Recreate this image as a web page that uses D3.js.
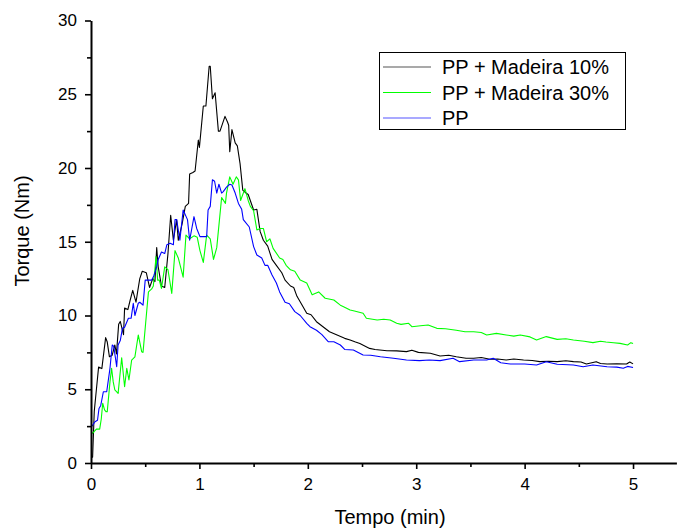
<!DOCTYPE html>
<html><head><meta charset="utf-8">
<script src="https://cdn.jsdelivr.net/npm/d3@7/dist/d3.min.js"></script>
<style>body{margin:0;background:#fff}svg{display:block}text{font-family:"Liberation Sans",Arial,sans-serif;fill:#000}</style>
</head><body><svg id="c" width="678" height="530"></svg>
<script>
const seriesNames = ["PP + Madeira 10%", "PP + Madeira 30%", "PP"];
const xTicks = [0,1,2,3,4,5];
const yTicks = [0,5,10,15,20,25,30];

const pp10 = [[0,0.4],[0.015,0.4],[0.03,3.5],[0.05,5.0],[0.07,6.5],[0.1,6.4],[0.12,7.6],[0.135,8.5],[0.15,8.2],[0.17,7.2],[0.195,7.3],[0.22,8.0],[0.235,7.4],[0.255,9.4],[0.27,9.6],[0.3,8.7],[0.31,10.5],[0.34,10.4],[0.36,11.0],[0.385,11.7],[0.415,10.9],[0.43,11.6],[0.45,12.5],[0.473,13.0],[0.51,12.9],[0.54,11.9],[0.57,12.5],[0.59,12.3],[0.606,14.6],[0.62,13.3],[0.65,12.0],[0.68,11.9],[0.71,14.2],[0.735,16.8],[0.76,15.1],[0.79,16.5],[0.805,15.1],[0.84,16.2],[0.87,17.4],[0.9,17.6],[0.91,19.6],[0.94,19.7],[0.96,19.8],[0.99,21.9],[1.0,21.4],[1.036,24.2],[1.06,24.2],[1.09,26.9],[1.1,26.9],[1.12,24.7],[1.145,25.1],[1.175,22.5],[1.19,22.5],[1.236,23.5],[1.26,23.1],[1.27,22.9],[1.28,21.1],[1.3,22.6],[1.33,21.7],[1.35,21.5],[1.375,20.3],[1.40,18.5],[1.43,18.3],[1.45,18.2],[1.50,17.15],[1.53,17.2],[1.56,15.7],[1.59,15.1],[1.63,14.7],[1.67,13.8],[1.71,13.4],[1.76,12.9],[1.79,12.4],[1.84,12.0],[1.87,11.9],[1.90,11.3],[1.94,10.8],[1.99,10.15],[2.03,10.05],[2.08,9.58],[2.14,9.24],[2.2,8.9],[2.27,8.68],[2.34,8.45],[2.39,8.34],[2.44,8.2],[2.48,8.1],[2.57,7.77],[2.62,7.7],[2.73,7.61],[2.82,7.6],[2.91,7.55],[2.96,7.65],[3.02,7.5],[3.13,7.44],[3.22,7.25],[3.3,7.3],[3.37,7.2],[3.46,7.1],[3.53,7.1],[3.6,7.15],[3.68,7.03],[3.75,7.05],[3.83,6.98],[3.9,7.05],[3.99,6.98],[4.07,6.95],[4.14,6.87],[4.22,6.9],[4.30,6.87],[4.38,6.93],[4.45,6.87],[4.52,6.85],[4.57,6.71],[4.62,6.8],[4.66,6.87],[4.7,6.75],[4.76,6.71],[4.85,6.72],[4.94,6.71],[4.97,6.85],[5.0,6.72]];

const pp30 = [[0.01,2.0],[0.028,2.12],[0.05,2.3],[0.08,2.3],[0.095,3.0],[0.108,4.05],[0.125,3.6],[0.138,3.48],[0.15,3.48],[0.175,5.5],[0.19,6.42],[0.205,5.5],[0.22,4.95],[0.25,4.72],[0.283,7.14],[0.31,5.17],[0.33,6.42],[0.35,5.63],[0.375,6.98],[0.405,7.2],[0.436,8.68],[0.468,7.54],[0.48,7.5],[0.504,9.47],[0.53,11.6],[0.56,11.8],[0.575,12.0],[0.6,14.0],[0.615,12.4],[0.63,12.4],[0.65,11.84],[0.68,13.3],[0.71,13.1],[0.745,11.5],[0.775,14.4],[0.805,13.9],[0.85,12.6],[0.876,15.45],[0.91,15.2],[0.95,15.4],[0.98,15.3],[1.005,14.4],[1.036,13.6],[1.067,15.45],[1.1,15.2],[1.13,13.8],[1.16,14.6],[1.205,18.0],[1.24,17.6],[1.25,18.3],[1.28,19.4],[1.31,18.9],[1.34,19.4],[1.36,19.2],[1.38,17.8],[1.42,18.6],[1.45,17.8],[1.47,17.4],[1.5,17.1],[1.53,15.8],[1.56,15.9],[1.59,15.9],[1.62,15.0],[1.65,15.2],[1.68,14.55],[1.74,13.9],[1.77,13.8],[1.80,13.4],[1.84,13.1],[1.88,13.0],[1.93,12.4],[1.99,12.2],[2.04,11.4],[2.10,11.6],[2.16,11.17],[2.24,11.05],[2.30,10.7],[2.33,10.6],[2.39,10.37],[2.43,10.3],[2.51,10.15],[2.54,9.81],[2.64,9.7],[2.7,9.75],[2.76,9.7],[2.82,9.47],[2.86,9.4],[2.93,9.47],[2.96,9.24],[3.04,9.3],[3.11,9.36],[3.19,9.13],[3.27,9.1],[3.37,9.0],[3.45,8.9],[3.53,8.9],[3.6,8.85],[3.65,8.68],[3.74,8.79],[3.83,8.68],[3.9,8.6],[3.96,8.68],[4.05,8.55],[4.11,8.34],[4.20,8.57],[4.30,8.38],[4.38,8.42],[4.45,8.34],[4.55,8.25],[4.63,8.16],[4.7,8.25],[4.75,8.2],[4.82,8.15],[4.88,8.11],[4.95,8.0],[4.98,8.16],[5.0,8.1]];

const pp = [[0.005,2.46],[0.037,2.8],[0.06,2.9],[0.074,3.7],[0.09,3.9],[0.114,4.83],[0.145,4.83],[0.175,6.42],[0.196,8.0],[0.21,7.9],[0.237,6.53],[0.25,8.0],[0.27,8.3],[0.29,9.13],[0.31,9.2],[0.345,9.81],[0.37,9.81],[0.39,10.83],[0.405,10.0],[0.436,10.83],[0.45,10.9],[0.48,10.7],[0.5,12.4],[0.53,12.4],[0.56,12.4],[0.58,12.7],[0.606,13.3],[0.62,13.8],[0.65,14.3],[0.68,14.2],[0.70,14.8],[0.73,14.9],[0.76,14.8],[0.775,16.5],[0.79,16.5],[0.82,15.1],[0.85,17.15],[0.89,16.5],[0.91,15.1],[0.95,16.7],[0.975,15.9],[1.005,15.35],[1.067,15.35],[1.08,17.15],[1.1,17.4],[1.12,19.2],[1.14,19.1],[1.16,18.3],[1.18,18.9],[1.205,18.3],[1.22,18.4],[1.25,18.7],[1.28,18.9],[1.30,18.85],[1.33,18.3],[1.36,17.6],[1.39,17.2],[1.405,16.5],[1.42,16.36],[1.46,16.0],[1.50,14.67],[1.53,14.1],[1.575,13.9],[1.605,13.4],[1.63,13.4],[1.67,12.75],[1.71,12.2],[1.74,11.6],[1.79,10.9],[1.83,10.8],[1.88,10.26],[1.93,10.0],[1.99,9.47],[2.02,9.24],[2.08,9.0],[2.13,8.7],[2.19,8.22],[2.24,8.22],[2.30,8.0],[2.34,7.7],[2.42,7.66],[2.51,7.32],[2.58,7.3],[2.67,7.2],[2.79,7.1],[2.91,6.98],[3.03,6.94],[3.12,6.98],[3.22,6.94],[3.34,7.1],[3.40,6.87],[3.53,6.98],[3.65,6.98],[3.71,7.1],[3.78,6.8],[3.87,6.71],[4.0,6.71],[4.11,6.64],[4.20,6.87],[4.3,6.7],[4.45,6.64],[4.54,6.53],[4.63,6.64],[4.76,6.53],[4.85,6.5],[4.91,6.42],[4.95,6.55],[5.0,6.48]];

const colors = ["#000000", "#00ff00", "#0000ff"];
const legendColors = ["#555555", "#00ff00", "#5555ff"];

const svg = d3.select("#c");
const x = d3.scaleLinear().domain([0, 5.4]).range([91, 676.4]);
const y = d3.scaleLinear().domain([0, 30]).range([463, 20.5]);

const line = d3.line().x(d => x(d[0])).y(d => y(d[1]));
[pp10, pp30, pp].forEach((s, i) => {
  svg.append("path").attr("d", line(s)).attr("fill", "none")
    .attr("stroke", colors[i]).attr("stroke-width", 1.1).attr("stroke-linejoin", "round");
});

// minor ticks
const xMinor = d3.range(0.5, 5.4, 1);
const yMinor = d3.range(2.5, 30, 5);
const gx = svg.append("g").attr("transform", "translate(0,463)");
gx.call(d3.axisBottom(x).tickValues(xMinor).tickSize(4).tickFormat(""));
gx.call(g => g.select(".domain").remove());
const gx2 = svg.append("g").attr("transform", "translate(0,463)");
gx2.call(d3.axisBottom(x).tickValues(xTicks).tickSize(6).tickSizeOuter(0).tickPadding(9).tickFormat(d3.format("d")));
const gy = svg.append("g").attr("transform", "translate(91,0)");
gy.call(d3.axisLeft(y).tickValues(yMinor).tickSize(4).tickFormat(""));
gy.call(g => g.select(".domain").remove());
const gy2 = svg.append("g").attr("transform", "translate(91,0)");
gy2.call(d3.axisLeft(y).tickValues(yTicks).tickSize(6).tickSizeOuter(0).tickPadding(8).tickFormat(d3.format("d")));

svg.selectAll(".domain").attr("stroke", "#000").attr("stroke-width", 2);
svg.selectAll(".tick line").attr("stroke", "#000").attr("stroke-width", 1.6);
svg.selectAll(".tick text").attr("font-size", 17).attr("font-family", "Liberation Sans, Arial, sans-serif").attr("fill", "#000");

svg.append("text").attr("x", 390).attr("y", 524).attr("text-anchor", "middle")
  .attr("font-size", 20).text("Tempo (min)");
svg.append("text").attr("transform", "translate(29,231) rotate(-90)").attr("text-anchor", "middle")
  .attr("font-size", 20).text("Torque (Nm)");

// legend
const lg = svg.append("g");
lg.append("rect").attr("x", 379.5).attr("y", 52.5).attr("width", 246).attr("height", 77)
  .attr("fill", "#fff").attr("stroke", "#000").attr("stroke-width", 1);
seriesNames.forEach((n, i) => {
  const yy = 67 + i * 25.5;
  lg.append("line").attr("x1", 383).attr("x2", 431).attr("y1", yy).attr("y2", yy)
    .attr("stroke", legendColors[i]).attr("stroke-width", 1.2);
  lg.append("text").attr("x", 442).attr("y", yy + 7).attr("font-size", 20).text(n);
});
</script></body></html>
